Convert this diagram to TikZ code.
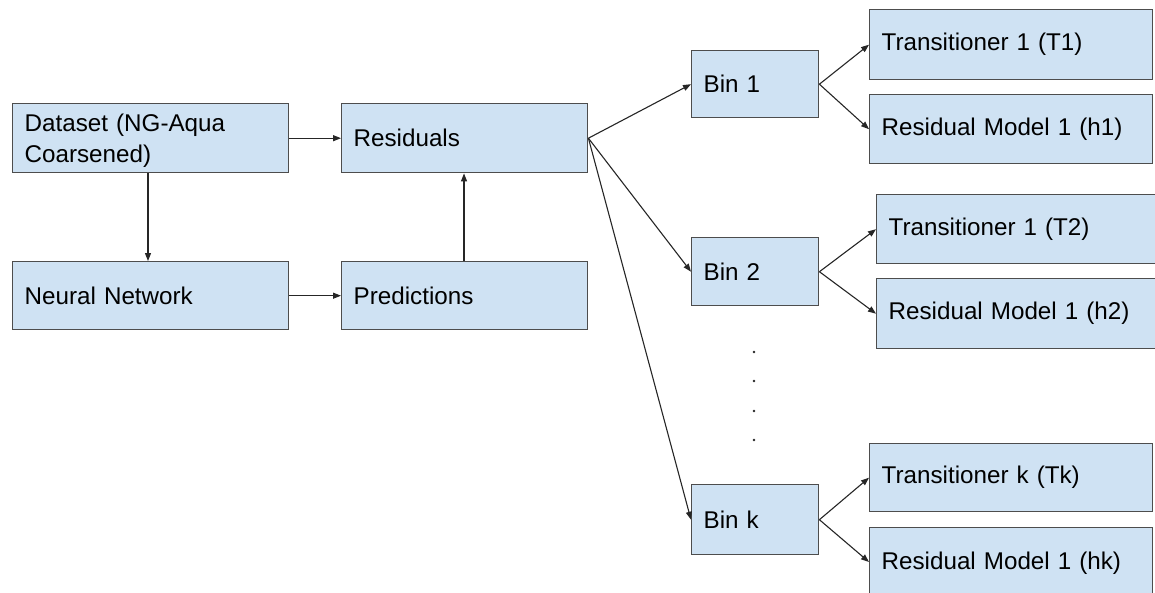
\documentclass[tikz,border=0pt]{standalone}
\usepackage{fontspec}
\setmainfont{Liberation Sans}
\usetikzlibrary{arrows.meta}
\definecolor{boxfill}{HTML}{CFE2F3}
\definecolor{boxline}{HTML}{4D4D4D}
\definecolor{linkcol}{HTML}{262626}
\tikzset{
  box/.style={draw=boxline, fill=boxfill, line width=1.4pt, rectangle,
    anchor=north west, inner xsep=12pt, inner ysep=0pt, align=left,
    font=\fontsize{24.2}{31}\selectfont},
  link/.style={draw=linkcol, line width=1.1pt,
    -{Triangle[length=8pt,width=6pt]}},
  dotmark/.style={circle, fill=linkcol, inner sep=0pt, minimum size=2.6pt}
}
% place a box by its top-left corner with width and height in pt
\newcommand{\boxat}[6]{%
  \node[box, text width=#4pt-24pt, minimum height=#5pt] (#1) at (#2,#3) {#6};}
% two-line label, set a little lower than plain centring would put it
\newcommand{\lowlines}[2]{%
  \raisebox{-3pt}[\height][\depth]{\begin{tabular}{@{}l@{}}#1\\#2\end{tabular}}}
\begin{document}
\begin{tikzpicture}[x=1pt,y=-1pt]
\useasboundingbox (0,0) rectangle (1155,592);
\clip (0,0) rectangle (1155,592);

% input stage
\boxat{data}{12}{103}{276}{69}{\lowlines{Dataset (NG-Aqua}{Coarsened)}}
\boxat{nn}{12}{261}{276}{68}{Neural Network}
\boxat{res}{341}{103}{246}{69}{Residuals}
\boxat{pred}{341}{261}{246}{68}{Predictions}

% bins
\boxat{bin1}{691}{50}{127}{67}{Bin 1}
\boxat{bin2}{691}{237}{127}{68}{Bin 2}
\boxat{bink}{691}{484}{127}{70}{Bin k}

% per-bin models
\boxat{t1}{869}{9}{283}{70}{Transitioner 1 (T1)}
\boxat{r1}{869}{94}{283}{69}{Residual Model 1 (h1)}
\boxat{t2}{876}{194}{300}{69}{Transitioner 1 (T2)}
\boxat{r2}{876}{278}{300}{70}{Residual Model 1 (h2)}
\boxat{tk}{869}{443}{283}{68}{Transitioner k (Tk)}
\boxat{rk}{869}{527}{283}{72}{Residual Model 1 (hk)}

% ellipsis between bin 2 and bin k
\foreach \i/\yy in {1/352,2/381,3/411,4/440}
  \node[dotmark] (dot\i) at (754,\yy) {};

% connectors
\draw[link] (data.east) -- (res.west);
\draw[link] (nn.east) -- (pred.west);
\draw[link] (data.south -| 148,0) -- (nn.north -| 148,0);
\draw[link] (pred.north -| 464,0) -- (res.south -| 464,0);

\draw[link] (res.east) -- (bin1.west);
\draw[link] (res.east) -- (bin2.west);
\draw[link] (res.east) -- (bink.west);

\draw[link] (bin1.east) -- (t1.west);
\draw[link] (bin1.east) -- (r1.west);
\draw[link] (bin2.east) -- (t2.west);
\draw[link] (bin2.east) -- (r2.west);
\draw[link] (bink.east) -- (tk.west);
\draw[link] (bink.east) -- (rk.west |- 0,562);
\end{tikzpicture}
\end{document}
